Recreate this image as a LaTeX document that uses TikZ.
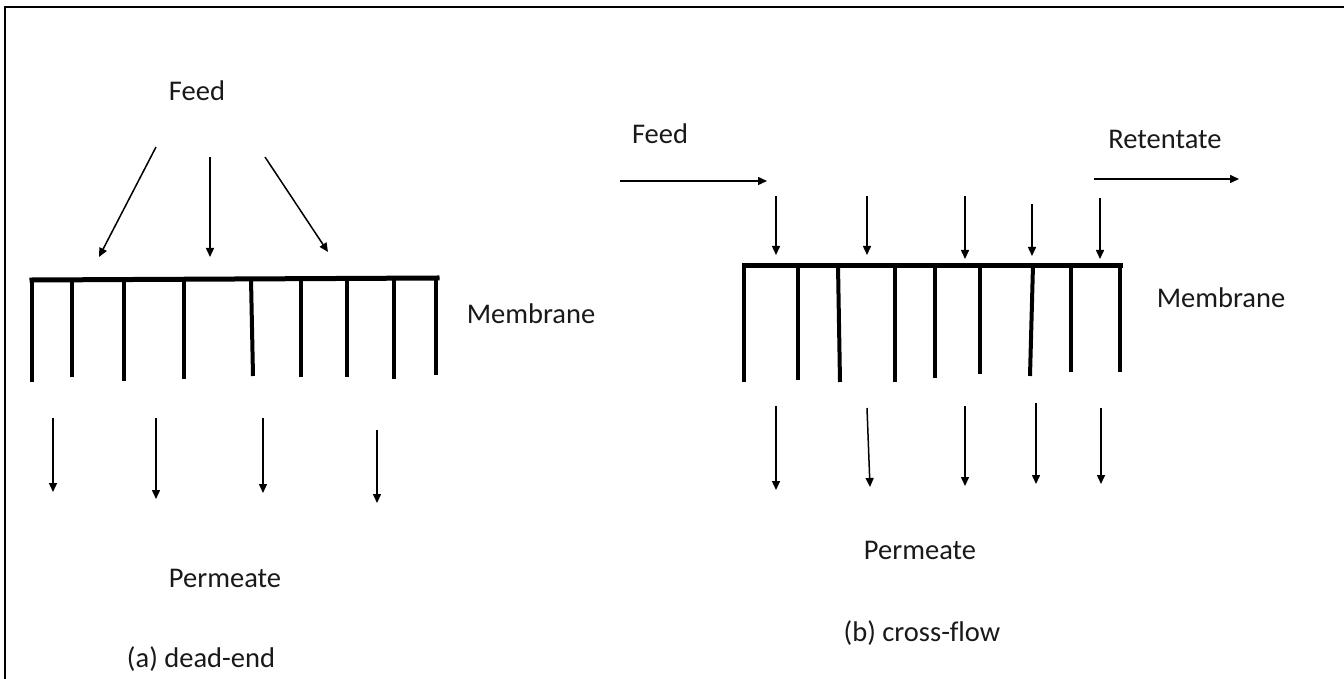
\documentclass[tikz,border=0pt]{standalone}
\usepackage{fontspec}
\setmainfont[Ligatures=CommonOff]{Carlito}
\usetikzlibrary{arrows.meta}
\begin{document}
\begin{tikzpicture}[x=1pt,y=-1pt,
  lbl/.style={font=\fontsize{28.5}{34}\selectfont, text=black!90, inner sep=0pt},
  flow/.style={line width=1.5pt, -{Triangle[length=9pt,width=8pt]}},
  memb/.style={line width=5pt, line cap=rect},
  pore/.style={line width=4pt}]
\useasboundingbox (0,0) rectangle (1344,679);
% frame (top and left edges only)
\draw[line width=2pt] (5,679) -- (5,7) -- (1344,7);

% ---------- (a) dead-end ----------
\node[lbl] (feedA) at (197,91) {Feed};
\coordinate (a1s) at (156,147); \coordinate (a1e) at (99,257);
\coordinate (a2s) at (210,157); \coordinate (a2e) at (210,257);
\coordinate (a3s) at (265,157); \coordinate (a3e) at (328,252);
\draw[flow] (a1s) -- (a1e);
\draw[flow] (a2s) -- (a2e);
\draw[flow] (a3s) -- (a3e);

\draw[memb] (32,280) -- (437,278);
\foreach \x/\b in {32/382,72/377,124/381,184/379,301/377,347/377,394/379,436/375}
  \draw[pore] (\x,279) -- (\x,\b);
\draw[pore] (251,279) -- (253,376);
\node[lbl] (membA) at (531,314) {Membrane};

\foreach \i/\x/\t/\b in {1/53/418/492,2/156/418/499,3/263/418/493,4/377/430/503}{
  \coordinate (pa\i s) at (\x,\t); \coordinate (pa\i e) at (\x,\b);
  \draw[flow] (pa\i s) -- (pa\i e);
}
\node[lbl] (permA) at (225,578) {Permeate};
\node[lbl] (capA) at (201,659) {(a) dead-end};

% ---------- (b) cross-flow ----------
\node[lbl] (feedB) at (660,134) {Feed};
\coordinate (fbs) at (620,181); \coordinate (fbe) at (767,181);
\draw[flow] (fbs) -- (fbe);
\node[lbl] (retB) at (1165,139) {Retentate};
\coordinate (rbs) at (1094,179); \coordinate (rbe) at (1239,179);
\draw[flow] (rbs) -- (rbe);

\foreach \i/\x/\t/\b in {1/776/196/255,2/867/196/255,3/965/196/259,4/1032/204/256,5/1100/198/259}{
  \coordinate (fb\i s) at (\x,\t); \coordinate (fb\i e) at (\x,\b);
  \draw[flow] (fb\i s) -- (fb\i e);
}

\draw[memb] (744,265) -- (1120,265);
\foreach \x/\b in {744/382,798/380,895/382,935/378,980/374,1071/372,1120/372}
  \draw[pore] (\x,265) -- (\x,\b);
\draw[pore] (838,265) -- (840,382);
\draw[pore] (1033,265) -- (1030,376);
\node[lbl] (membB) at (1221,298) {Membrane};

\foreach \i/\xs/\xe/\t/\b in {1/776/776/406/490,2/867/870/408/487,3/965/965/406/486,4/1036/1036/403/484,5/1101/1101/408/484}{
  \coordinate (pb\i s) at (\xs,\t); \coordinate (pb\i e) at (\xe,\b);
  \draw[flow] (pb\i s) -- (pb\i e);
}
\node[lbl] (permB) at (920,550) {Permeate};
\node[lbl] (capB) at (922,633) {(b) cross-flow};
\end{tikzpicture}
\end{document}
